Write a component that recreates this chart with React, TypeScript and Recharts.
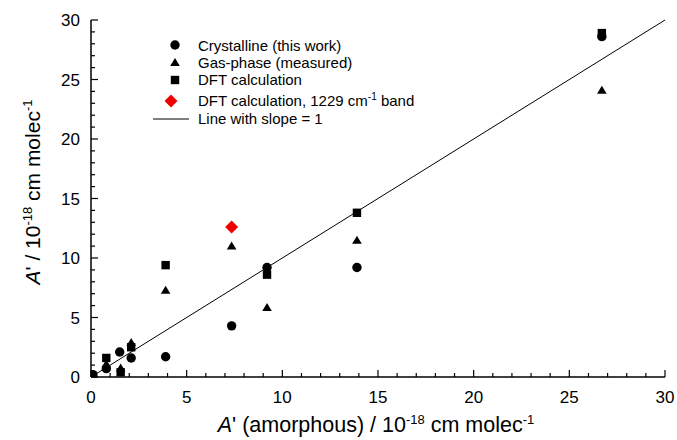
import React from 'react';
import { ScatterChart, Scatter, XAxis, YAxis, ReferenceLine, Customized } from 'recharts';

const crystalline = [
    { x: 0.1, y: 0.2 },
    { x: 0.8, y: 0.7 },
    { x: 1.5, y: 2.1 },
    { x: 2.1, y: 1.6 },
    { x: 3.9, y: 1.7 },
    { x: 7.35, y: 4.3 },
    { x: 9.2, y: 9.2 },
    { x: 13.9, y: 9.2 },
    { x: 26.7, y: 28.6 },
];

const gasPhase = [
    { x: 0.8, y: 1.1 },
    { x: 1.55, y: 0.75 },
    { x: 2.1, y: 2.9 },
    { x: 3.9, y: 7.3 },
    { x: 7.35, y: 11.0 },
    { x: 9.2, y: 5.85 },
    { x: 13.9, y: 11.5 },
    { x: 26.7, y: 24.1 },
];

const dft = [
    { x: 0.8, y: 1.6 },
    { x: 1.55, y: 0.4 },
    { x: 2.1, y: 2.5 },
    { x: 3.9, y: 9.4 },
    { x: 9.2, y: 8.6 },
    { x: 13.9, y: 13.8 },
    { x: 26.7, y: 28.9 },
];

const dft1229 = [{ x: 7.35, y: 12.6 }];

const slopeLine = [
    { x: 0, y: 0 },
    { x: 30, y: 30 },
];

const axisTicks = [0, 1, 2, 3, 4, 5, 6, 7, 8, 9, 10, 11, 12, 13, 14, 15, 16, 17, 18, 19, 20, 21, 22, 23, 24, 25, 26, 27, 28, 29, 30];

const FONT = '"Liberation Sans", Arial, sans-serif';

const XTick = (props: any) => {
    const { x, y, payload } = props;
    const major = payload.value % 5 === 0;
    return (
        <g>
            <line x1={x} x2={x} y1={y} y2={y - (major ? 7 : 4)} stroke="#000" strokeWidth={1.2} />
            {major && (
                <text x={x} y={y + 26} textAnchor="middle" fontSize={17} fontFamily={FONT} fill="#000">
                    {payload.value}
                </text>
            )}
        </g>
    );
};

const YTick = (props: any) => {
    const { x, y, payload } = props;
    const major = payload.value % 5 === 0;
    return (
        <g>
            <line x1={x} x2={x + (major ? 7 : 4)} y1={y} y2={y} stroke="#000" strokeWidth={1.2} />
            {major && (
                <text x={x - 11} y={y + 6} textAnchor="end" fontSize={17} fontFamily={FONT} fill="#000">
                    {payload.value}
                </text>
            )}
        </g>
    );
};

const Circle = ({ cx, cy }: any) => <circle cx={cx} cy={cy} r={4.7} fill="#000" />;
const Triangle = ({ cx, cy }: any) => (
    <path d={`M${cx},${cy - 4.5} L${cx + 4.8},${cy + 3.5} L${cx - 4.8},${cy + 3.5} Z`} fill="#000" />
);
const Square = ({ cx, cy }: any) => <rect x={cx - 4.2} y={cy - 4.2} width={8.4} height={8.4} fill="#000" />;
const Diamond = ({ cx, cy }: any) => (
    <path d={`M${cx},${cy - 6.5} L${cx + 6.5},${cy} L${cx},${cy + 6.5} L${cx - 6.5},${cy} Z`} fill="#ee0000" />
);

const XTitle = () => (
    <text x={376} y={432} textAnchor="middle" fontSize={21.5} fontFamily={FONT} fill="#000">
        <tspan fontStyle="italic">A</tspan>
        <tspan>' (amorphous) / 10</tspan>
        <tspan fontSize={13} dy={-8}>-18</tspan>
        <tspan dy={8}> cm molec</tspan>
        <tspan fontSize={13} dy={-8}>-1</tspan>
    </text>
);

const YTitle = () => (
    <text
        x={0}
        y={0}
        transform="translate(40,192) rotate(-90)"
        textAnchor="middle"
        fontSize={21}
        fontFamily={FONT}
        fill="#000"
    >
        <tspan fontStyle="italic">A</tspan>
        <tspan>' / 10</tspan>
        <tspan fontSize={13} dy={-8}>-18</tspan>
        <tspan dy={8}> cm molec</tspan>
        <tspan fontSize={13} dy={-8}>-1</tspan>
    </text>
);

const LegendBox = () => {
    const mx = 175;
    const tx = 198;
    return (
        <g fontFamily={FONT} fontSize={15} fill="#000">
            <Circle cx={mx} cy={45} />
            <text x={tx} y={50.5}>Crystalline (this work)</text>
            <Triangle cx={mx} cy={62.5} />
            <text x={tx} y={67.5}>Gas-phase (measured)</text>
            <Square cx={mx} cy={80} />
            <text x={tx} y={85}>DFT calculation</text>
            <Diamond cx={mx - 4} cy={101} />
            <text x={tx} y={106}>
                DFT calculation, 1229 cm<tspan fontSize={10} dy={-6}>-1</tspan>
                <tspan dy={6}> band</tspan>
            </text>
            <line x1={153} x2={189} y1={119} y2={119} stroke="#000" strokeWidth={1} />
            <text x={tx} y={124}>Line with slope = 1</text>
        </g>
    );
};

export default function App() {
    return (
        <div style={{ position: 'absolute', left: 0, top: 0, width: 677, height: 440, overflow: 'hidden' }}>
            <ScatterChart width={677} height={440} margin={{ top: 20, right: 12, bottom: 0, left: 8 }}>
                <XAxis
                    type="number"
                    dataKey="x"
                    domain={[0, 30]}
                    ticks={axisTicks}
                    interval={0}
                    tickSize={0}
                    tickMargin={0}
                    tickLine={false}
                    tick={<XTick />}
                    height={63}
                    axisLine={{ stroke: '#000', strokeWidth: 1.5 }}
                    allowDataOverflow
                />
                <YAxis
                    type="number"
                    dataKey="y"
                    domain={[0, 30]}
                    ticks={axisTicks}
                    interval={0}
                    tickSize={0}
                    tickMargin={0}
                    tickLine={false}
                    tick={<YTick />}
                    width={83}
                    axisLine={{ stroke: '#000', strokeWidth: 1.5 }}
                    allowDataOverflow
                />
                <ReferenceLine segment={slopeLine} stroke="#000" strokeWidth={1} />
                <Scatter name="Crystalline (this work)" data={crystalline} shape={Circle} isAnimationActive={false} />
                <Scatter name="Gas-phase (measured)" data={gasPhase} shape={Triangle} isAnimationActive={false} />
                <Scatter name="DFT calculation" data={dft} shape={Square} isAnimationActive={false} />
                <Scatter name="DFT calculation, 1229 cm-1 band" data={dft1229} shape={Diamond} isAnimationActive={false} />
                <Customized component={XTitle} />
                <Customized component={YTitle} />
                <Customized component={LegendBox} />
            </ScatterChart>
        </div>
    );
}
